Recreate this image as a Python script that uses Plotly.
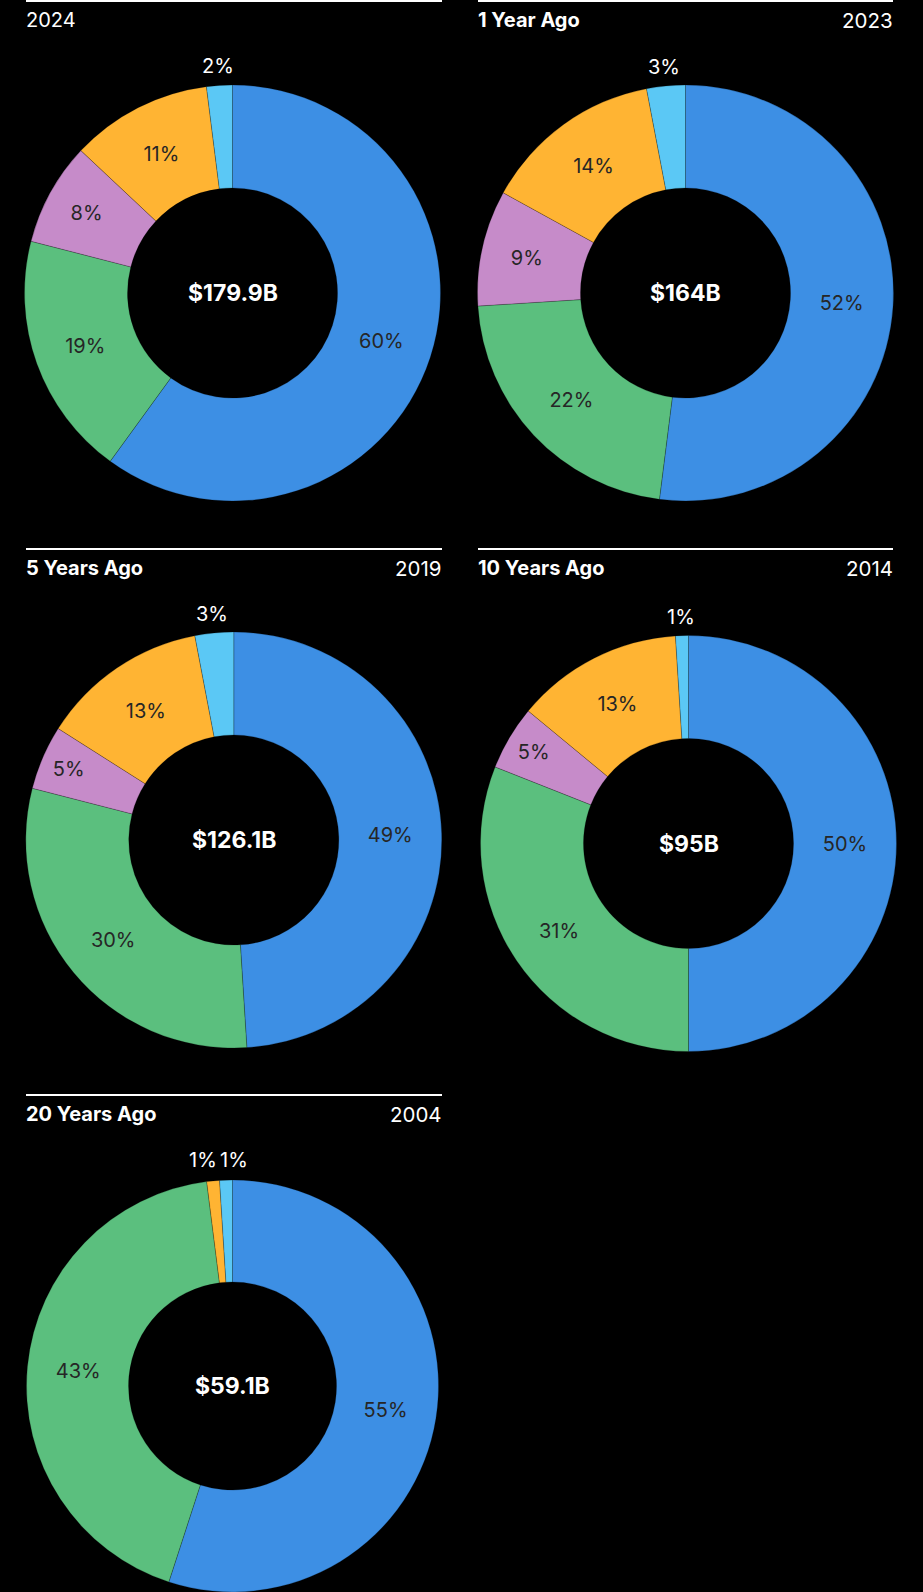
import math
import plotly.graph_objects as go

W, H = 923, 1592

# Data
left_titles = ["2024", "1 Year Ago", "5 Years Ago", "10 Years Ago", "20 Years Ago"]
right_years = ["", "2023", "2019", "2014", "2004"]
totals = ["$179.9B", "$164B", "$126.1B", "$95B", "$59.1B"]
categories = ["Segment 1", "Segment 2", "Segment 3", "Segment 4", "Segment 5"]
seg1 = [60, 52, 49, 50, 55]
seg2 = [19, 22, 30, 31, 43]
seg3 = [8, 9, 5, 5, 0]
seg4 = [11, 14, 13, 13, 1]
seg5 = [2, 3, 3, 1, 1]

colors = ["#3d8fe4", "#5bbf7e", "#c68bc9", "#ffb433", "#5bc8f5"]

# Layout (pixels)
centers = [(232.5, 293), (685.5, 293), (233.8, 840), (688.5, 843.5), (232.5, 1386)]
radii = [208, 208, 208, 208, 206]
panels = [(26, 442, 1), (478, 893, 1), (26, 442, 549), (478, 893, 549), (26, 442, 1095)]
label_r = 227      # distance of outside labels from the centre
label_gap = 31     # min horizontal spacing between neighbouring outside labels
FONT = "Inter"


def px_x(x):
    return min(max(x / W, 0), 1)


def px_y(y):
    return min(max(1 - y / H, 0), 1)


def _outside_labels(values, cx, cy):
    # small slices get their label outside the ring, at the slice mid-angle
    total = sum(values)
    cum = 0
    out = []
    for v in values:
        if v < 4:
            theta = 2 * math.pi * (cum + v / 2) / total
            out.append([cx + label_r * math.sin(theta), cy - label_r * math.cos(theta), v])
        cum += v
    # push neighbours apart if they collide
    for a, b in zip(out, out[1:]):
        if b[0] - a[0] < label_gap:
            mid = (a[0] + b[0]) / 2
            a[0], b[0] = mid - label_gap / 2, mid + label_gap / 2
            a[1] = b[1] = (a[1] + b[1]) / 2
    return out


fig = go.Figure()
shapes = []
annotations = []

for i in range(5):
    vals = [seg1[i], seg2[i], seg3[i], seg4[i], seg5[i]]
    labels, values, cols, positions = [], [], [], []
    for cat, v, c in zip(categories, vals, colors):
        if v == 0:
            continue
        labels.append(cat)
        values.append(v)
        cols.append(c)
        positions.append("none" if v < 4 else "inside")

    cx, cy = centers[i]
    r = radii[i]
    fig.add_trace(go.Pie(
        labels=labels,
        values=values,
        hole=0.505,
        sort=False,
        direction="clockwise",
        rotation=0,
        marker=dict(colors=cols, line=dict(color="rgba(0,0,0,0.35)", width=0.6)),
        textposition=positions,
        texttemplate="%{value}%",
        textfont=dict(color="#262626", size=20, family=FONT),
        insidetextorientation="horizontal",
        domain=dict(
            x=[px_x(cx - r), px_x(cx + r)],
            y=[px_y(cy + r), px_y(cy - r)],
        ),
        showlegend=False,
    ))

    for lx, ly, v in _outside_labels(values, cx, cy):
        annotations.append(dict(
            x=px_x(lx), y=px_y(ly), xref="paper", yref="paper",
            text=f"{v}%", showarrow=False,
            font=dict(color="white", size=20, family=FONT),
            xanchor="center", yanchor="middle",
        ))

    annotations.append(dict(
        x=px_x(cx), y=px_y(cy), xref="paper", yref="paper",
        text=f"<b>{totals[i]}</b>", showarrow=False,
        font=dict(color="white", size=23, family=FONT),
        xanchor="center", yanchor="middle",
    ))

    x0, x1, ly = panels[i]
    shapes.append(dict(
        type="line", xref="paper", yref="paper",
        x0=px_x(x0), x1=px_x(x1), y0=px_y(ly), y1=px_y(ly),
        line=dict(color="white", width=2),
    ))
    left_text = left_titles[i] if i == 0 else f"<b>{left_titles[i]}</b>"
    annotations.append(dict(
        x=px_x(x0), y=px_y(ly + 19), xref="paper", yref="paper",
        text=left_text, showarrow=False,
        font=dict(color="white", size=20, family=FONT),
        xanchor="left", yanchor="middle", xshift=-2,
    ))
    annotations.append(dict(
        x=px_x(x1), y=px_y(ly + 19), xref="paper", yref="paper",
        text=right_years[i], showarrow=False,
        font=dict(color="white", size=20.5, family=FONT),
        xanchor="right", yanchor="middle", xshift=2,
    ))

fig.update_layout(
    width=W,
    height=H,
    margin=dict(l=0, r=0, t=0, b=0),
    paper_bgcolor="black",
    plot_bgcolor="black",
    shapes=shapes,
    annotations=annotations,
    font=dict(family=FONT, color="white"),
)

fig.write_html(
    "out.html",
    config={"displayModeBar": False},
    post_script="document.body.style.margin='0';document.body.style.background='black';",
)
